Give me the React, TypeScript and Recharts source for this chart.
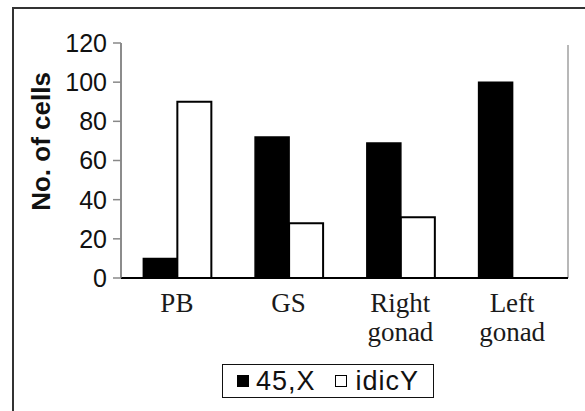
import React from 'react';
import { BarChart, Bar, XAxis, YAxis, Legend, Label } from 'recharts';

const CATEGORIES = ['PB', 'GS', 'Right gonad', 'Left gonad'];
const SERIES_45X = [10, 72, 69, 100];
const SERIES_IDICY = [90, 28, 31, 0];
const Y_TICKS = [0, 20, 40, 60, 80, 100, 120];
const SERIES_NAMES = ['45,X', 'idicY'];

const data = CATEGORIES.map((c, i) => ({ name: c, a: SERIES_45X[i], b: SERIES_IDICY[i] }));

const XTick = (props: any) => {
  const { x, y, payload } = props;
  const lines = String(payload.value).split(' ');
  return (
    <text x={x} y={y} textAnchor="middle" fontFamily="'Liberation Serif', 'Times New Roman', serif" fontSize={27} fill="#1a1a1a">
      {lines.map((l: string, i: number) => (
        <tspan key={i} x={x} dy={i === 0 ? 34 : 29}>{l}</tspan>
      ))}
    </text>
  );
};

const renderLegend = (props: any) => {
  const payload = (props.payload || []).filter((e: any) => SERIES_NAMES.includes(e.value));
  return (
    <div
      style={{
        border: '1.5px solid #111',
        height: 34,
        boxSizing: 'border-box',
        display: 'flex',
        alignItems: 'center',
        paddingLeft: 14,
        fontFamily: "'Liberation Sans', Arial, sans-serif",
        fontSize: 27,
        letterSpacing: 1,
        color: '#111',
        background: '#fff',
      }}
    >
      {payload.map((entry: any, i: number) => (
        <span key={i} style={{ display: 'flex', alignItems: 'center', marginRight: 19 }}>
          <span
            style={{
              display: 'inline-block',
              width: 12,
              height: 12,
              boxSizing: 'border-box',
              background: entry.color,
              border: '1.5px solid #000',
            }}
          />
          <span style={{ marginLeft: i === 0 ? 7 : 9, lineHeight: '30px' }}>{entry.value}</span>
        </span>
      ))}
    </div>
  );
};

export default function App() {
  return (
    <div style={{ position: 'absolute', left: 0, top: 0, width: 585, height: 411, overflow: 'hidden', background: '#fff' }}>
      <div
        style={{
          position: 'absolute',
          left: 12,
          top: 7,
          width: 620,
          height: 500,
          borderLeft: '2px solid #333',
          borderTop: '2px solid #333',
        }}
      />
      <div
        style={{
          position: 'absolute',
          left: 567,
          top: 45,
          width: 2,
          height: 233,
          background: '#b8b8b8',
        }}
      />
      <div style={{ position: 'absolute', left: 0, top: 0 }}>
        <BarChart
          width={585}
          height={411}
          data={data}
          margin={{ top: 43, right: 17, left: 0, bottom: 29 }}
          barCategoryGap="20%"
          barGap={0}
        >
          <XAxis
            dataKey="name"
            height={70}
            tickLine={false}
            tickSize={0}
            tickMargin={0}
            axisLine={{ stroke: '#000', strokeWidth: 2 }}
            tick={<XTick />}
            interval={0}
          />
          <YAxis
            width={121}
            domain={[0, 120]}
            ticks={Y_TICKS}
            tickSize={8}
            tickMargin={6}
            axisLine={{ stroke: '#666', strokeWidth: 1.5 }}
            tickLine={{ stroke: '#888', strokeWidth: 1.5 }}
            tick={{ fontFamily: "'Liberation Sans', Arial, sans-serif", fontSize: 25, fill: '#111' }}
            interval={0}
          >
            <Label
              content={(p: any) => {
                const vb = p.viewBox || { x: 0, y: 43, width: 121, height: 235 };
                const cx = vb.x + 41;
                const cy = vb.y + vb.height / 2 - 19;
                return (
                  <text
                    x={cx}
                    y={cy}
                    transform={`rotate(-90 ${cx} ${cy})`}
                    textAnchor="middle"
                    dominantBaseline="central"
                    fontFamily="'Liberation Sans', Arial, sans-serif"
                    fontWeight="bold"
                    fontSize={26}
                    fill="#111"
                  >
                    No. of cells
                  </text>
                );
              }}
            />
          </YAxis>
          <Legend content={renderLegend} wrapperStyle={{ left: 222, top: 364, width: 212, height: 34 }} />
          <Bar dataKey="a" name={SERIES_NAMES[0]} fill="#000" stroke="#000" strokeWidth={1.5} isAnimationActive={false} />
          <Bar dataKey="b" name={SERIES_NAMES[1]} fill="#fff" stroke="#000" strokeWidth={2} isAnimationActive={false} />
        </BarChart>
      </div>
    </div>
  );
}
